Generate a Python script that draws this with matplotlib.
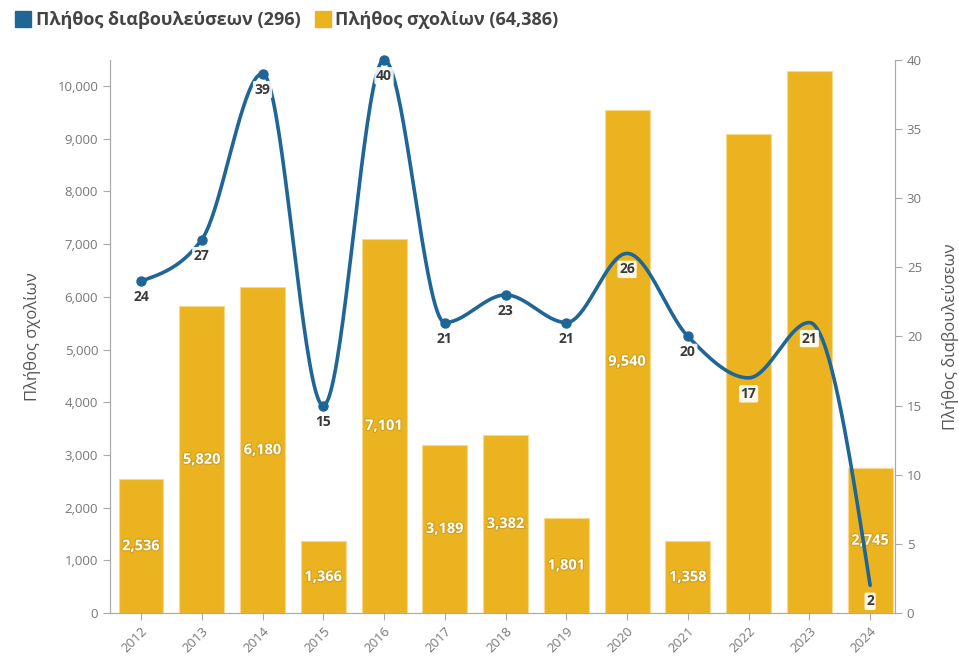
import numpy as np
import matplotlib
matplotlib.use("Agg")
import matplotlib.pyplot as plt
import matplotlib.patheffects as pe
from matplotlib.lines import Line2D
from matplotlib.ticker import FuncFormatter, MultipleLocator

plt.rcParams['font.family'] = ['Open Sans', 'DejaVu Sans']

years = [2012, 2013, 2014, 2015, 2016, 2017, 2018, 2019, 2020, 2021, 2022, 2023, 2024]
comments = [2536, 5820, 6180, 1366, 7101, 3189, 3382, 1801, 9540, 1358, 9082, 10286, 2745]
consultations = [24, 27, 39, 15, 40, 21, 23, 21, 26, 20, 17, 21, 2]
unlabelled_bars = [2022, 2023]

legend_cons = "Πλήθος διαβουλεύσεων (296)"
legend_comm = "Πλήθος σχολίων (64,386)"
ylabel_left = "Πλήθος σχολίων"
ylabel_right = "Πλήθος διαβουλεύσεων"

BAR = "#ecb321"
LINE = "#1f6696"
GRAY = "#777777"


def monotone_x(y, n=40):
    # d3.curveMonotoneX style interpolation, unit spacing
    y = np.asarray(y, dtype=float)
    s = np.diff(y)
    t = np.zeros_like(y)
    for i in range(1, len(y) - 1):
        s0, s1 = s[i - 1], s[i]
        p = (s0 + s1) / 2
        t[i] = (np.sign(s0) + np.sign(s1)) * min(abs(s0), abs(s1), 0.5 * abs(p))
    t[0] = (3 * s[0] - t[1]) / 2
    t[-1] = (3 * s[-1] - t[-2]) / 2
    xs, ys = [], []
    for i in range(len(y) - 1):
        u = np.linspace(0, 1, n, endpoint=False)
        h00 = 2 * u**3 - 3 * u**2 + 1
        h10 = u**3 - 2 * u**2 + u
        h01 = -2 * u**3 + 3 * u**2
        h11 = u**3 - u**2
        xs.append(i + u)
        ys.append(h00 * y[i] + h10 * t[i] + h01 * y[i + 1] + h11 * t[i + 1])
    xs.append([len(y) - 1])
    ys.append([y[-1]])
    return np.concatenate(xs), np.concatenate(ys)


fig = plt.figure(figsize=(9.59, 6.57), dpi=100)
ax = fig.add_axes([0.1147, 0.067, 0.8186, 0.842])
ax2 = ax.twinx()

x = np.arange(len(years))
ax.bar(x, comments, width=0.74, color=BAR, edgecolor="#f6d98a", linewidth=0.8, zorder=2)
ax.set_xlim(-0.51, len(years) - 0.59)
ax.set_ylim(0, 10500)
ax2.set_ylim(0, 40)

for xi, yr, v in zip(x, years, comments):
    if yr in unlabelled_bars:
        continue
    ax.text(xi, v / 2, f"{v:,}", ha="center", va="center", color="white",
            fontsize=10.5, fontweight="bold", zorder=3,
            path_effects=[pe.withStroke(linewidth=1.6, foreground="#cf9f1e")])

cx, cy = monotone_x(consultations)
ax2.plot(cx, cy, color=LINE, linewidth=2.6, zorder=4, solid_capstyle="round", clip_on=False)
scale = ax.get_ylim()[1] / ax2.get_ylim()[1]
for xi, c, v in zip(x, consultations, comments):
    if c * scale > v:
        ax2.plot(xi, c, "o", color=LINE, markersize=6.5, zorder=5, clip_on=False)
    ax2.annotate(str(c), (xi, c), xytext=(0, -16), textcoords="offset pixels",
                 ha="center", va="center", fontsize=10, fontweight="bold", color="#3a3a3a",
                 bbox=dict(boxstyle="round,pad=0.12", fc="white", ec="none", alpha=0.9),
                 zorder=6)

ax.yaxis.set_major_locator(MultipleLocator(1000))
ax.yaxis.set_major_formatter(FuncFormatter(lambda v, p: f"{int(v):,}"))
ax2.yaxis.set_major_locator(MultipleLocator(5))
ax.set_xticks(x)
ax.set_xticklabels([str(y) for y in years], rotation=45, ha="right", rotation_mode="anchor")

for a in (ax, ax2):
    a.spines["top"].set_visible(False)
    for side in ("left", "right", "bottom"):
        a.spines[side].set_color("#aaaaaa")
    a.tick_params(colors="#aaaaaa", labelcolor=GRAY, labelsize=9.5, length=5, width=0.8)

ax.set_ylabel(ylabel_left, fontsize=12, color="#555555", labelpad=12)
ax2.set_ylabel(ylabel_right, fontsize=12, color="#555555", rotation=90, labelpad=14)

handles = [Line2D([], [], marker="s", linestyle="none", color=LINE, markersize=12),
           Line2D([], [], marker="s", linestyle="none", color=BAR, markersize=12)]
fig.legend(handles, [legend_cons, legend_comm], loc="upper left", bbox_to_anchor=(0.0, 1.008),
           ncol=2, frameon=False, handlelength=0.8, handletextpad=0.3, columnspacing=0.8,
           prop=dict(size=13, weight="bold"), labelcolor="#444444")

fig.savefig("out.png", dpi=100)
